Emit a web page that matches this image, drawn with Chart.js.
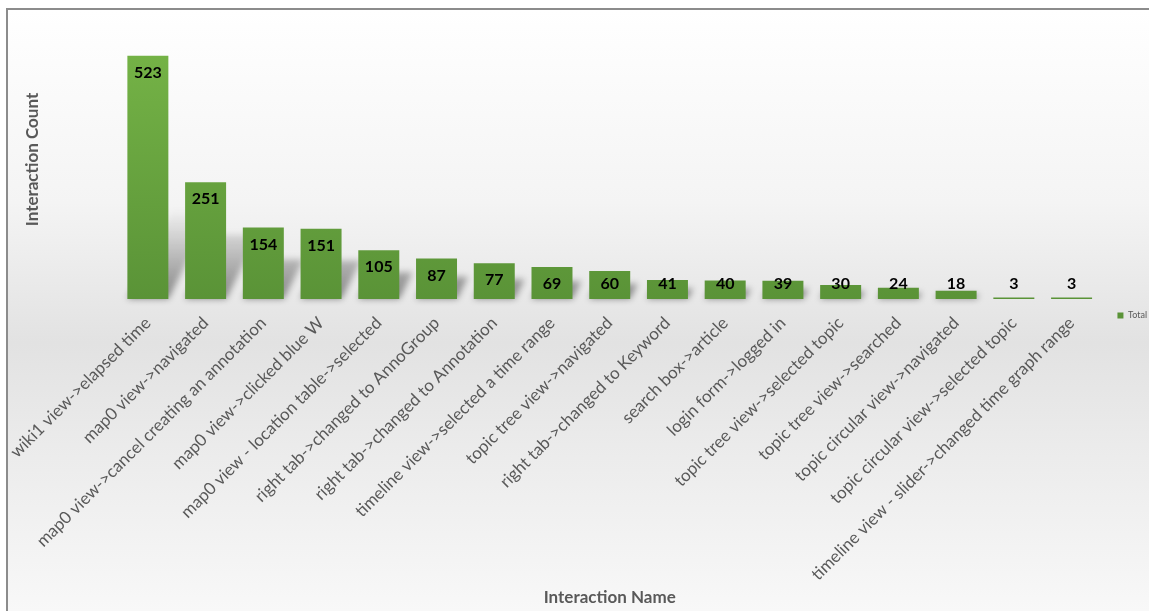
<!DOCTYPE html>
<html>
<head>
<meta charset="utf-8">
<script src="https://cdn.jsdelivr.net/npm/chart.js"></script>
<style>
  body { margin: 0; width: 1149px; height: 611px; overflow: hidden; background: #fff; }
  .frame {
    position: absolute; left: 6px; top: 8px; width: 1200px; height: 640px;
    border-top: 2px solid #8c8c8c; border-left: 2px solid #8c8c8c;
    background: linear-gradient(to bottom, #ffffff 0%, #f4f4f4 30%, #e2e2e2 52%, #ebebeb 68%, #fbfbfb 100%);
  }
  #chart { position: absolute; left: 0; top: 0; }
</style>
</head>
<body>
<div class="frame"></div>
<canvas id="chart" width="1149" height="611"></canvas>
<script>
const interactions = [
  'wiki1 view->elapsed time',
  'map0 view->navigated',
  'map0 view->cancel creating an annotation',
  'map0 view->clicked blue W',
  'map0 view - location table->selected',
  'right tab->changed to AnnoGroup',
  'right tab->changed to Annotation',
  'timeline view->selected a time range',
  'topic tree view->navigated',
  'right tab->changed to Keyword',
  'search box->article',
  'login form->logged in',
  'topic tree view->selected topic',
  'topic tree view->searched',
  'topic circular view->navigated',
  'topic circular view->selected topic',
  'timeline view - slider->changed time graph range'
];
const totals = [523, 251, 154, 151, 105, 87, 77, 69, 60, 41, 40, 39, 30, 24, 18, 3, 3];

const textGray = '#595959';
const fontFamily = 'Lato, "Open Sans", sans-serif';

// soft perspective shadow cast up-right behind each bar, fading with height
const barShadow = {
  id: 'barShadow',
  beforeDatasetsDraw(chart) {
    const ctx = chart.ctx;
    const meta = chart.getDatasetMeta(0);
    ctx.save();
    ctx.filter = 'blur(3px)';
    meta.data.forEach(bar => {
      const h = bar.base - bar.y;
      if (h < 4) return;
      const rise = h * 0.55, shift = rise * 0.5;
      const l = bar.x - bar.width / 2, r = bar.x + bar.width / 2;
      const g = ctx.createLinearGradient(0, bar.base, 0, bar.base - 90);
      g.addColorStop(0, 'rgba(0,0,0,0.42)');
      g.addColorStop(0.6, 'rgba(0,0,0,0.16)');
      g.addColorStop(1, 'rgba(0,0,0,0)');
      ctx.fillStyle = g;
      ctx.beginPath();
      ctx.moveTo(l, bar.base);
      ctx.lineTo(r, bar.base);
      ctx.lineTo(r + shift, bar.base - rise);
      ctx.lineTo(l + shift, bar.base - rise);
      ctx.closePath();
      ctx.fill();
    });
    ctx.restore();
  }
};

// value labels near the top of each bar, kept above the baseline for short bars
const valueLabels = {
  id: 'valueLabels',
  afterDatasetsDraw(chart) {
    const ctx = chart.ctx;
    const meta = chart.getDatasetMeta(0);
    ctx.save();
    ctx.font = 'bold 16px ' + fontFamily;
    ctx.fillStyle = '#000';
    ctx.textAlign = 'center';
    ctx.textBaseline = 'middle';
    meta.data.forEach((bar, i) => {
      const y = Math.min(bar.y + 17, bar.base - 15);
      ctx.fillText(String(totals[i]), bar.x, y);
    });
    ctx.restore();
  }
};

function barFill(context) {
  const { chart } = context;
  const area = chart.chartArea;
  if (!area) return '#64a13e';
  const g = chart.ctx.createLinearGradient(0, area.top + 36, 0, area.bottom);
  g.addColorStop(0, '#74b246');
  g.addColorStop(1, '#5a9337');
  return g;
}

new Chart(document.getElementById('chart'), {
  type: 'bar',
  data: {
    labels: interactions,
    datasets: [{
      label: 'Total',
      data: totals,
      backgroundColor: barFill,
      barPercentage: 0.71,
      categoryPercentage: 1
    }]
  },
  options: {
    responsive: false,
    animation: false,
    layout: { padding: { top: 20, left: 0, right: -8, bottom: 0 } },
    plugins: {
      tooltip: { enabled: false },
      legend: {
        position: 'right',
        labels: {
          boxWidth: 6, boxHeight: 6, padding: 17,
          color: textGray,
          font: { family: fontFamily, size: 9 }
        }
      }
    },
    scales: {
      x: {
        grid: { display: false, drawTicks: false },
        border: { display: false },
        ticks: {
          autoSkip: false, minRotation: 45, maxRotation: 45, padding: 14,
          color: textGray,
          font: { family: fontFamily, size: 17 }
        },
        title: {
          display: true, text: 'Interaction Name', color: textGray,
          font: { family: fontFamily, size: 17, weight: 'bold' },
          padding: { top: 0, bottom: 3 }
        },
        afterFit(scale) {
          scale.height = 312;
          scale.paddingLeft = 0;
          scale.paddingRight = 0;
        }
      },
      y: {
        min: 0, max: 600,
        grid: { display: false, drawTicks: false },
        border: { display: false },
        ticks: { display: false },
        title: {
          display: true, text: 'Interaction Count', color: textGray,
          font: { family: fontFamily, size: 17, weight: 'bold' },
          padding: { top: 22, bottom: 0 }
        },
        afterFit(scale) {
          scale.width = 119;
        }
      }
    }
  },
  plugins: [barShadow, valueLabels]
});
</script>
</body>
</html>
